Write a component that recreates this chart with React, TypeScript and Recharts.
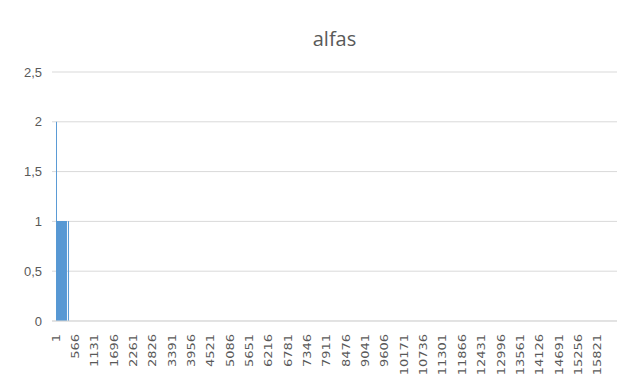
import { BarChart, Bar, XAxis, YAxis, CartesianGrid } from "recharts";

// Series stored as runs of equal values (value, how many consecutive categories)
const runValues = [2, 1, 0, 1, 0];
const runLengths = [1, 291, 57, 3, 16032];
const yTicks = [0, 0.5, 1, 1.5, 2, 2.5];
const labelStep = 565;

const data: { cat: number; alfas: number }[] = [];
runValues.forEach((v, i) => {
  for (let k = 0; k < runLengths[i]; k++) {
    data.push({ cat: data.length + 1, alfas: v });
  }
});

const GRAY = "#595959";
const BLUE = "#5b9bd5";

// bars are far narrower than a pixel, so keep at least 1px wide
function ThinBar(props: any) {
  const { x, y, width, height } = props;
  if (!height) return null;
  return <rect x={x} y={y} width={Math.max(width, 1)} height={height} fill={BLUE} />;
}

// vertical category label, slightly condensed
function RotatedTick(props: any) {
  const { x, y, payload } = props;
  return (
    <text
      x={0}
      y={0}
      dy="0.35em"
      textAnchor="end"
      transform={`translate(${x}, ${y + 5}) rotate(-90) scale(1, 0.78)`}
      fill={GRAY}
      fontSize={13}
      fontFamily="DejaVu Sans"
    >
      {payload.value}
    </text>
  );
}

export default function App() {
  return (
    <div
      style={{
        position: "relative",
        width: 618,
        height: 373,
        border: "1px solid #d9d9d9",
        margin: "-1px 0 0 -1px",
        background: "#fff",
      }}
    >
      <div
        style={{
          position: "absolute",
          top: 21,
          left: 44,
          width: 565,
          textAlign: "center",
          fontFamily: "'Open Sans', sans-serif",
          fontSize: 20,
          lineHeight: "20px",
          color: GRAY,
        }}
      >
        alfas
      </div>
      <BarChart
        width={618}
        height={373}
        data={data}
        margin={{ top: 64, right: 9, left: 0, bottom: 0 }}
        barCategoryGap={0}
        barGap={0}
      >
        <CartesianGrid vertical={false} stroke="#d9d9d9" />
        <XAxis
          dataKey="cat"
          interval={labelStep - 1}
          height={60}
          padding={{ left: 4, right: 0 }}
          axisLine={{ stroke: "#d9d9d9" }}
          tickLine={false}
          tick={<RotatedTick />}
        />
        <YAxis
          width={44}
          domain={[0, 2.5]}
          ticks={yTicks}
          axisLine={false}
          tickLine={false}
          tickMargin={4}
          tick={{ fill: GRAY, fontSize: 13, fontFamily: "'Liberation Sans', sans-serif" }}
          tickFormatter={(v: number) => String(v).replace(".", ",")}
        />
        <Bar dataKey="alfas" fill={BLUE} shape={<ThinBar />} isAnimationActive={false} />
      </BarChart>
    </div>
  );
}
